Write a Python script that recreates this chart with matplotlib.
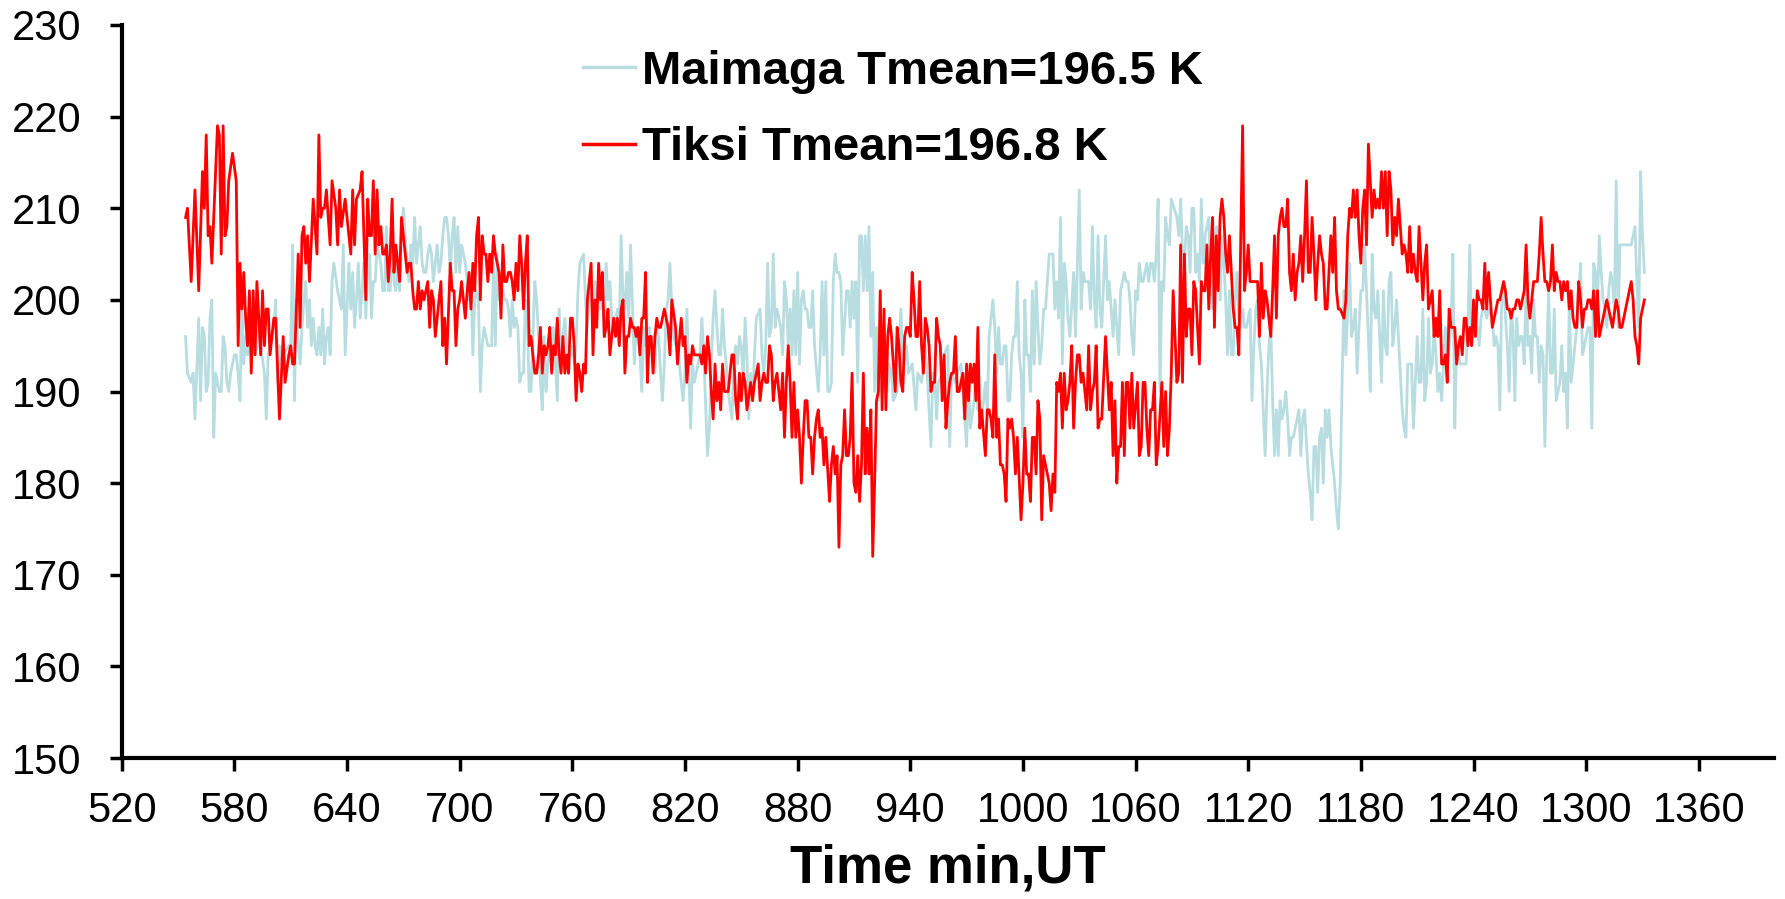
import matplotlib
matplotlib.use("Agg")
import matplotlib.pyplot as plt

# (time in min UT, temperature K)
maimaga = [
    (554, 196), (555, 192), (557, 191), (558, 192), (559, 187), (561, 198), (562, 189), (563, 197), (564, 196), (565, 190),
    (566, 191), (567, 198), (568, 200), (569, 185), (570, 192), (571, 191), (572, 190), (573, 190), (574, 196), (575, 195),
    (576, 191), (577, 190), (578, 192), (580, 194), (581, 194), (582, 192), (583, 189), (584, 200), (585, 193), (586, 196),
    (587, 194), (588, 197), (589, 194), (590, 197), (591, 194), (592, 195), (593, 197), (594, 195), (596, 192), (597, 187),
    (598, 194), (599, 195), (601, 197), (602, 200), (603, 191), (604, 195), (605, 193), (606, 194), (609, 195), (610, 195),
    (611, 206), (612, 189), (613, 200), (614, 195), (615, 193), (616, 197), (617, 200), (618, 202), (619, 197), (620, 200),
    (621, 195), (622, 198), (623, 195), (624, 194), (625, 197), (626, 194), (627, 199), (628, 193), (629, 196), (630, 197),
    (631, 194), (632, 202), (633, 204), (635, 201), (636, 200), (637, 199), (638, 206), (639, 194), (641, 204),
    (642, 199), (643, 203), (644, 197), (645, 200), (646, 204), (647, 198), (649, 204), (650, 198), (651, 203), (652, 205),
    (653, 198), (654, 202), (655, 202), (656, 206), (657, 205), (658, 204), (659, 201), (660, 201), (661, 208), (662, 201),
    (663, 201), (664, 207), (665, 202), (666, 201), (667, 204), (668, 201), (669, 207), (670, 210), (671, 207), (672, 204),
    (673, 202), (674, 206), (675, 204), (676, 209), (677, 204), (678, 206), (679, 208), (680, 204), (681, 203), (682, 203),
    (683, 205), (684, 206), (685, 205), (686, 202), (688, 206), (689, 203), (690, 204), (691, 207), (692, 209), (693, 209),
    (694, 207), (695, 203), (696, 207), (697, 209), (698, 203), (699, 208), (700, 203), (701, 206), (703, 204), (704, 202),
    (705, 200), (706, 202), (707, 194), (708, 200), (709, 201), (710, 200), (711, 190), (712, 195), (713, 197), (714, 196),
    (715, 195), (716, 195), (717, 195), (718, 204), (719, 195), (720, 205), (721, 200), (722, 200), (723, 201), (724, 200),
    (725, 200), (726, 199), (727, 196), (728, 200), (729, 197),
    (730, 198), (731, 197), (732, 191), (733, 192), (734, 192), (735, 200), (736, 198), (737, 190), (738, 190), (740, 202),
    (741, 200), (742, 196), (743, 191), (744, 188), (745, 196), (746, 190), (747, 193), (748, 195), (749, 193), (750, 197),
    (752, 189), (753, 199), (754, 193), (755, 196), (756, 198), (757, 195), (758, 192), (759, 194), (760, 195), (761, 193),
    (762, 195), (763, 201), (764, 204), (766, 205), (767, 200), (768, 197), (769, 200), (770, 203), (771, 197), (772, 202),
    (773, 198), (774, 202), (775, 199), (776, 202), (777, 196), (778, 204), (779, 200), (780, 202), (781, 198), (782, 197),
    (784, 199), (785, 197), (786, 207), (787, 200), (788, 199), (789, 203), (790, 198), (791, 206), (793, 193), (794, 197),
    (795, 196), (796, 194), (797, 190), (798, 197), (799, 195), (800, 196), (801, 197), (802, 194), (803, 195), (804, 192),
    (805, 197), (806, 196), (807, 192), (808, 189), (809, 193), (810, 199), (811, 200), (812, 204), (813, 199), (814, 196),
    (815, 195), (816, 195),
    (818, 191), (819, 189), (820, 192), (821, 199), (822, 192), (823, 186), (824, 193), (825, 191), (826, 192), (827, 193),
    (828, 194), (829, 198), (830, 194), (832, 183), (833, 186), (834, 193), (835, 198), (836, 201), (837, 197), (838, 194),
    (839, 194), (840, 199), (841, 195), (842, 193), (843, 190), (845, 187), (846, 193), (847, 195), (848, 193), (849, 196),
    (850, 195), (851, 191), (852, 198), (853, 194), (854, 187), (855, 192), (856, 189), (857, 194), (858, 198), (860, 199),
    (861, 194), (862, 192), (863, 195), (864, 204), (865, 196), (866, 197), (867, 205), (868, 197), (869, 199), (871, 197),
    (872, 194), (873, 202), (874, 200), (875, 195), (876, 199), (877, 194), (878, 201), (879, 194), (880, 203), (881, 193),
    (882, 200), (883, 201), (884, 199), (885, 199), (886, 197), (887, 197), (888, 201), (889, 195), (891, 190), (892, 194),
    (893, 202), (894, 194), (895, 202), (896, 190), (897, 190), (898, 191), (899, 202), (900, 205), (901, 203), (902, 203),
    (903, 202), (904, 194),
    (906, 201), (907, 201), (908, 197), (909, 202), (910, 198), (911, 202), (912, 191), (913, 207), (914, 207), (915, 201),
    (916, 207), (917, 201), (918, 208), (919, 196), (920, 203), (921, 190), (922, 197), (923, 189), (924, 192), (925, 190),
    (926, 197), (927, 192), (928, 190), (929, 193), (930, 192), (931, 189), (933, 190), (935, 199), (936, 192), (938, 195),
    (939, 192), (941, 193), (943, 188), (944, 192), (946, 191), (948, 195), (949, 192), (951, 184), (952, 192), (953, 192),
    (954, 187), (955, 191), (957, 192), (958, 194), (960, 195), (961, 184), (962, 192), (964, 191), (965, 192), (967, 193),
    (968, 190), (970, 184), (971, 192), (972, 186), (974, 189), (975, 192), (976, 188), (977, 189), (978, 187), (980, 191),
    (981, 188), (982, 196), (984, 200), (985, 197), (986, 192), (987, 197), (988, 193), (989, 193), (990, 195), (991, 195),
    (992, 189),
    (993, 189), (994, 194), (995, 196), (996, 196), (997, 202), (998, 194), (999, 192), (1000, 185), (1001, 200), (1002, 194),
    (1003, 194), (1004, 190), (1005, 201), (1006, 193), (1007, 202), (1008, 197), (1009, 193), (1010, 195), (1011, 199),
    (1012, 199), (1013, 202), (1014, 205), (1016, 205), (1017, 199), (1018, 202), (1019, 198), (1020, 209), (1021, 193),
    (1022, 204), (1023, 202), (1024, 198), (1025, 196), (1027, 203), (1028, 196), (1030, 212), (1031, 199), (1032, 203),
    (1033, 202), (1034, 202), (1035, 202), (1036, 199), (1037, 208), (1038, 200), (1039, 197), (1040, 207), (1041, 199),
    (1042, 197), (1044, 207), (1045, 200), (1046, 202), (1047, 199), (1048, 196), (1049, 200), (1050, 197), (1051, 194),
    (1052, 201), (1053, 202), (1054, 203), (1055, 202), (1056, 202), (1057, 200), (1058, 196), (1059, 194), (1060, 201),
    (1061, 200), (1062, 204), (1063, 202), (1064, 202), (1066, 204), (1067, 202), (1068, 204), (1069, 204), (1070, 202),
    (1071, 205), (1072, 211), (1073, 190), (1074, 202), (1075, 201), (1076, 209), (1077, 207), (1078, 206), (1079, 211),
    (1082, 209), (1083, 207), (1084, 211), (1085, 205), (1086, 204), (1087, 208), (1088, 207), (1089, 203), (1090, 210),
    (1091, 210), (1092, 203), (1093, 205), (1094, 202), (1095, 211), (1096, 204), (1097, 207), (1098, 208), (1099, 209),
    (1100, 202), (1101, 199), (1102, 203), (1103, 208), (1104, 207), (1105, 200), (1106, 207), (1107, 204), (1108, 200),
    (1109, 194), (1110, 201), (1111, 194), (1112, 194), (1113, 200), (1114, 203), (1115, 198), (1116, 197), (1117, 199),
    (1118, 197), (1119, 197), (1121, 199), (1122, 189), (1123, 195), (1124, 199), (1125, 200), (1126, 195), (1127, 193),
    (1129, 183), (1130, 190), (1131, 195), (1132, 197), (1133, 189), (1134, 183), (1135, 188), (1136, 183), (1137, 189),
    (1138, 187), (1139, 188), (1140, 190), (1141, 187), (1142, 183), (1143, 185), (1144, 185), (1145, 186), (1146, 187),
    (1147, 188), (1148, 183), (1149, 187), (1150, 188), (1152, 181), (1153, 179), (1154, 176), (1155, 184), (1156, 184),
    (1157, 179), (1158, 185), (1159, 186), (1160, 180), (1161, 188), (1162, 185), (1163, 188), (1164, 184), (1166, 180),
    (1167, 177), (1168, 175),
    (1169, 180), (1170, 191), (1171, 201), (1172, 194), (1173, 199), (1174, 204), (1175, 196), (1176, 197), (1177, 199),
    (1178, 192), (1179, 197), (1180, 201), (1181, 201), (1182, 206), (1183, 201), (1184, 196), (1185, 190), (1186, 205),
    (1187, 199), (1188, 198), (1189, 201), (1191, 191), (1192, 201), (1193, 195), (1194, 194), (1195, 202), (1196, 203),
    (1197, 195), (1198, 197), (1199, 200), (1200, 196), (1201, 192), (1202, 188), (1203, 186), (1204, 185), (1205, 193),
    (1207, 193), (1208, 186), (1209, 191), (1210, 196), (1211, 191), (1212, 191), (1213, 199), (1214, 189), (1215, 191),
    (1216, 198), (1217, 192), (1218, 193), (1219, 197), (1220, 194), (1221, 190), (1222, 192), (1223, 189), (1225, 197),
    (1226, 193), (1227, 195), (1228, 197), (1229, 205), (1230, 186), (1231, 195), (1233, 193), (1236, 193), (1237, 197),
    (1238, 206), (1239, 195), (1240, 197), (1242, 197), (1243, 195), (1244, 198), (1245, 199), (1246, 199), (1247, 198),
    (1248, 199), (1250, 198), (1251, 195), (1252, 196), (1253, 195), (1254, 188), (1255, 200), (1256, 202),
    (1257, 198), (1258, 195), (1259, 190), (1260, 199), (1261, 197), (1262, 189), (1263, 198), (1264, 195), (1265, 196),
    (1266, 196), (1267, 193), (1268, 202), (1269, 195), (1270, 196), (1271, 192), (1272, 200), (1273, 196), (1274, 196),
    (1275, 191), (1276, 195), (1277, 194), (1278, 184), (1279, 194), (1280, 201), (1281, 192), (1282, 192), (1283, 199),
    (1284, 189), (1285, 190), (1286, 191), (1287, 195), (1288, 190), (1289, 192), (1290, 186), (1291, 200), (1292, 191),
    (1293, 193), (1294, 195), (1295, 197), (1297, 204), (1298, 194), (1299, 195), (1300, 196), (1301, 197), (1302, 197),
    (1303, 186), (1304, 204), (1305, 203), (1306, 199), (1307, 207), (1308, 203), (1309, 200), (1310, 199), (1311, 197),
    (1312, 201), (1313, 203), (1314, 202), (1315, 199), (1316, 213), (1317, 197), (1318, 206), (1320, 206), (1321, 206),
    (1324, 206), (1325, 207), (1326, 208), (1327, 202), (1328, 197), (1329, 214), (1330, 207), (1331, 203),
]

tiksi = [
    (554, 209), (555, 210), (557, 202), (559, 212), (561, 201), (563, 214), (564, 210), (565, 218), (566, 207), (567, 208),
    (568, 204), (571, 219), (572, 218), (573, 205), (574, 219), (575, 207), (576, 208), (577, 213), (579, 216), (581, 213),
    (582, 195), (583, 204), (584, 199), (585, 203), (586, 198), (587, 195), (588, 201), (589, 192), (590, 201), (591, 194),
    (592, 202), (594, 194), (595, 201), (596, 195), (597, 199), (598, 199), (599, 194), (601, 198), (602, 198), (604, 187),
    (606, 196), (607, 191), (609, 194), (610, 195), (611, 193), (612, 193), (614, 205), (615, 197), (616, 207), (617, 208),
    (618, 204), (619, 207), (620, 202), (622, 211), (624, 205), (625, 218), (626, 209), (627, 210), (628, 210), (629, 212),
    (631, 206), (632, 213), (634, 210), (635, 206), (636, 212), (637, 208), (639, 211), (641, 207),
    (642, 205), (643, 212), (644, 206), (645, 211), (647, 212), (648, 214), (650, 200), (651, 211), (652, 207), (653, 207),
    (654, 213), (655, 205), (656, 212), (657, 206), (658, 208), (659, 205), (660, 205), (661, 206), (662, 202), (663, 205),
    (664, 211), (665, 203), (666, 206), (667, 204), (668, 202), (669, 209), (670, 207), (671, 205), (672, 203), (673, 204),
    (674, 204), (675, 201), (676, 199), (677, 199), (678, 202), (679, 199), (680, 201), (681, 200), (682, 201), (683, 202),
    (684, 197), (685, 201), (686, 200), (687, 196), (688, 198), (689, 200), (690, 202), (691, 195), (692, 198), (693, 193),
    (695, 204), (696, 201), (697, 201), (698, 195), (699, 199), (700, 200), (701, 202), (702, 200), (703, 198), (704, 201),
    (705, 203), (706, 199), (707, 204), (708, 201), (709, 207), (710, 209), (711, 200), (712, 207), (713, 205), (714, 205),
    (715, 202), (716, 205), (717, 203), (718, 207), (719, 205), (720, 204), (721, 203), (722, 198), (723, 206), (724, 202),
    (725, 202), (726, 203), (727, 203), (728, 202), (729, 200),
    (730, 204), (731, 201), (732, 207), (733, 204), (734, 199), (735, 204), (736, 207), (737, 195), (738, 196), (739, 194),
    (740, 192), (741, 192), (742, 194), (743, 197), (744, 192), (745, 195), (746, 194), (747, 195), (748, 197), (749, 192),
    (750, 195), (751, 194), (752, 198), (753, 194), (754, 192), (755, 196), (756, 192), (757, 194), (758, 192), (759, 198),
    (760, 198), (761, 195), (762, 189), (763, 193), (764, 192), (765, 190), (766, 193), (767, 192), (768, 200), (769, 202),
    (770, 204), (771, 194), (772, 200), (773, 197), (774, 204), (775, 200), (776, 203), (777, 196), (778, 197), (779, 199),
    (780, 194), (781, 196), (782, 198), (783, 196), (784, 198), (785, 195), (786, 199), (787, 200), (788, 192), (789, 196),
    (790, 196), (791, 198), (792, 197), (793, 197), (794, 196), (795, 197), (796, 194), (797, 198), (798, 198), (799, 203),
    (800, 191), (801, 196), (802, 196), (803, 192), (804, 196), (805, 198), (806, 197), (807, 197), (808, 198), (809, 199),
    (811, 197), (812, 194), (813, 200), (815, 197), (816, 193),
    (818, 198), (819, 195), (820, 196), (821, 191), (822, 194), (823, 193), (824, 195), (825, 194), (826, 194), (828, 194),
    (829, 193), (830, 195), (831, 192), (832, 196), (833, 194), (834, 190), (835, 187), (836, 193), (837, 189), (838, 191),
    (839, 188), (840, 193), (841, 190), (842, 190), (843, 190), (845, 194), (846, 194), (847, 189), (848, 187), (849, 192),
    (850, 189), (851, 192), (852, 191), (853, 188), (855, 191), (856, 189), (857, 191), (858, 192), (859, 193), (860, 189),
    (861, 191), (862, 192), (863, 191), (864, 191), (865, 195), (866, 194), (867, 189), (868, 191), (869, 192), (871, 188),
    (872, 192), (873, 185), (874, 191), (875, 195), (876, 191), (877, 185), (878, 191), (879, 185), (880, 188), (881, 185),
    (882, 180), (883, 185), (884, 189), (885, 189), (886, 185), (887, 185), (888, 181), (889, 185), (890, 187), (891, 188),
    (892, 185), (893, 186), (894, 182), (895, 185), (897, 178), (898, 182), (899, 184), (900, 181), (901, 183), (902, 173),
    (903, 182), (904, 183), (905, 188),
    (906, 183), (907, 183), (908, 185), (909, 192), (910, 180), (911, 179), (912, 183), (913, 178), (914, 182), (915, 192),
    (916, 181), (917, 186), (918, 181), (919, 188), (920, 172), (921, 180), (922, 189), (923, 190), (924, 201), (925, 188),
    (926, 199), (927, 188), (928, 196), (929, 198), (930, 196), (932, 190), (933, 197), (934, 195), (935, 191), (936, 190),
    (937, 196), (938, 197), (939, 197), (940, 196), (941, 203), (942, 200), (943, 196), (944, 196), (945, 202), (946, 195),
    (947, 192), (948, 198), (949, 197), (950, 195), (951, 190), (952, 191), (953, 191), (954, 198), (955, 196), (956, 195),
    (957, 189), (958, 194), (959, 186), (960, 189), (961, 191), (962, 192), (963, 192), (964, 196), (965, 190), (966, 190),
    (967, 191), (968, 192), (969, 187), (970, 193), (971, 189), (972, 193), (973, 191), (974, 193), (975, 189), (976, 197),
    (977, 186), (978, 188), (980, 183), (981, 188), (982, 188), (983, 187), (984, 185), (985, 194), (986, 185), (987, 187),
    (988, 182), (989, 182), (990, 181), (991, 178), (992, 187),
    (993, 186), (994, 187), (995, 185), (996, 181), (997, 185), (999, 176), (1000, 180), (1001, 186), (1002, 181),
    (1003, 181), (1004, 178), (1005, 185), (1006, 185), (1007, 181), (1008, 189), (1009, 187), (1010, 176), (1011, 183),
    (1012, 182), (1014, 180), (1015, 177), (1016, 181), (1017, 179), (1018, 191), (1019, 190), (1020, 192), (1021, 186),
    (1022, 192), (1023, 188), (1024, 189), (1025, 191), (1026, 195), (1027, 186), (1028, 191), (1029, 194), (1030, 194),
    (1031, 191), (1032, 192), (1033, 190), (1034, 188), (1035, 195), (1036, 188), (1037, 190), (1038, 191), (1039, 195),
    (1040, 186), (1041, 187), (1042, 187), (1044, 196), (1045, 192), (1046, 188), (1047, 191), (1048, 183), (1049, 189),
    (1050, 180), (1051, 184), (1052, 184), (1053, 191), (1054, 183), (1055, 191), (1056, 191), (1057, 186), (1058, 192),
    (1059, 186), (1061, 191), (1062, 183), (1063, 184), (1064, 191), (1065, 191), (1066, 186), (1067, 183), (1068, 188),
    (1069, 188), (1070, 191), (1071, 182), (1072, 184), (1074, 191), (1075, 184), (1076, 190), (1077, 183), (1078, 186),
    (1079, 192), (1080, 201),
    (1082, 191), (1083, 192), (1084, 206), (1085, 191), (1086, 205), (1087, 196), (1088, 199), (1089, 199), (1090, 194),
    (1091, 202), (1092, 201), (1093, 197), (1094, 193), (1095, 202), (1096, 201), (1097, 201), (1098, 206), (1099, 199),
    (1100, 205), (1101, 209), (1102, 197), (1103, 207), (1104, 201), (1105, 209), (1106, 211), (1107, 209), (1108, 205),
    (1109, 203), (1110, 207), (1111, 203), (1112, 199), (1113, 197), (1114, 197), (1115, 194), (1117, 219), (1118, 201),
    (1119, 203), (1120, 206), (1121, 202), (1122, 202), (1124, 202), (1125, 202), (1126, 196), (1127, 204), (1128, 198),
    (1129, 201), (1130, 200), (1131, 198), (1132, 196), (1133, 201), (1134, 207), (1135, 198), (1136, 207), (1137, 209),
    (1138, 210), (1139, 208), (1140, 208), (1141, 211), (1142, 203), (1143, 201), (1144, 205), (1145, 200), (1146, 203),
    (1147, 204), (1148, 207), (1149, 202), (1150, 207), (1151, 213), (1152, 203), (1153, 203), (1154, 209), (1155, 205),
    (1156, 200), (1157, 204), (1158, 207), (1159, 205), (1160, 204), (1161, 199), (1162, 199), (1163, 203), (1164, 207),
    (1165, 203), (1166, 209), (1167, 201), (1168, 199),
    (1169, 199), (1171, 198), (1172, 200), (1173, 207), (1174, 210), (1175, 209), (1176, 212), (1177, 209), (1178, 212),
    (1179, 207), (1180, 204), (1181, 210), (1182, 212), (1183, 206), (1184, 217), (1185, 213), (1186, 209), (1187, 212),
    (1188, 210), (1189, 211), (1190, 210), (1191, 214), (1192, 210), (1193, 214), (1194, 207), (1195, 214), (1196, 212),
    (1197, 206), (1198, 209), (1199, 207), (1200, 211), (1201, 208), (1202, 205), (1203, 206), (1204, 205), (1205, 203),
    (1206, 208), (1207, 203), (1208, 205), (1209, 203), (1210, 202), (1211, 208), (1213, 200), (1214, 204), (1215, 206),
    (1216, 199), (1217, 200), (1218, 201), (1219, 196), (1220, 198), (1221, 196), (1222, 201), (1223, 193), (1224, 193),
    (1225, 194), (1226, 191), (1227, 199), (1228, 197), (1230, 197), (1231, 193), (1232, 195), (1233, 196), (1234, 194),
    (1235, 198), (1236, 198), (1237, 195), (1238, 197), (1239, 195), (1240, 200), (1241, 196), (1242, 201), (1243, 200),
    (1244, 200), (1245, 199), (1246, 204), (1247, 199), (1248, 203), (1249, 200), (1250, 197), (1252, 199), (1253, 200),
    (1254, 200), (1255, 201), (1256, 202),
    (1257, 201), (1258, 199), (1259, 199), (1260, 198), (1261, 199), (1262, 199), (1263, 200), (1264, 200), (1265, 199),
    (1266, 200), (1267, 201), (1268, 206), (1269, 200), (1270, 198), (1271, 200), (1272, 202), (1273, 202), (1274, 202),
    (1275, 205), (1276, 209), (1277, 205), (1278, 202), (1279, 202), (1280, 201), (1281, 202), (1282, 206), (1283, 201),
    (1284, 203), (1285, 202), (1286, 202), (1287, 200), (1288, 202), (1289, 201), (1290, 202), (1291, 199), (1292, 201),
    (1293, 198), (1294, 197), (1295, 197), (1296, 202), (1297, 200), (1298, 197), (1299, 199), (1300, 199), (1301, 200),
    (1302, 200), (1303, 199), (1304, 201), (1305, 196), (1306, 201), (1307, 196), (1308, 197), (1309, 198), (1310, 199),
    (1311, 200), (1312, 199), (1313, 198), (1314, 197), (1316, 200), (1317, 199), (1318, 197), (1319, 197), (1320, 198),
    (1321, 199), (1322, 200), (1323, 201), (1324, 202), (1325, 200), (1326, 196), (1327, 195), (1328, 193), (1329, 198),
    (1330, 199), (1331, 200),
]

labels = ["Maimaga Tmean=196.5 K", "Tiksi Tmean=196.8 K"]
xticks = list(range(520, 1361, 60))
yticks = list(range(150, 231, 10))

plt.rcParams['font.family'] = ['Liberation Sans', 'DejaVu Sans']

fig = plt.figure(figsize=(17.85, 8.99), dpi=100)
ax = fig.add_axes([0.0682, 0.1568, 0.9256, 0.8154])

t1, v1 = zip(*maimaga)
t2, v2 = zip(*tiksi)
ax.plot(t1, v1, color='#b7dde1', lw=2.0, label=labels[0])
ax.plot(t2, v2, color='#ff0000', lw=2.0, label=labels[1])

ax.set_xlim(520, 1400)
ax.set_ylim(150, 230)
ax.set_xticks(xticks)
ax.set_yticks(yticks)

for s in ['top', 'right']:
    ax.spines[s].set_visible(False)
for s in ['left', 'bottom']:
    ax.spines[s].set_linewidth(3)

ax.tick_params(axis='both', direction='out', length=9, width=2.5, labelsize=30)
ax.tick_params(axis='x', pad=15)
ax.tick_params(axis='y', pad=20)

ax.set_xlabel('Time min,UT', fontsize=38, fontweight='bold', labelpad=9)

leg = ax.legend(loc='upper left', bbox_to_anchor=(0.279, 0.966), frameon=False,
                prop={'size': 34, 'weight': 'bold'}, handlelength=1.1,
                handletextpad=0.15, labelspacing=0.69, borderpad=0, borderaxespad=0)
for h in leg.get_lines():
    h.set_linewidth(2.5)

fig.savefig('out.png', dpi=100)
